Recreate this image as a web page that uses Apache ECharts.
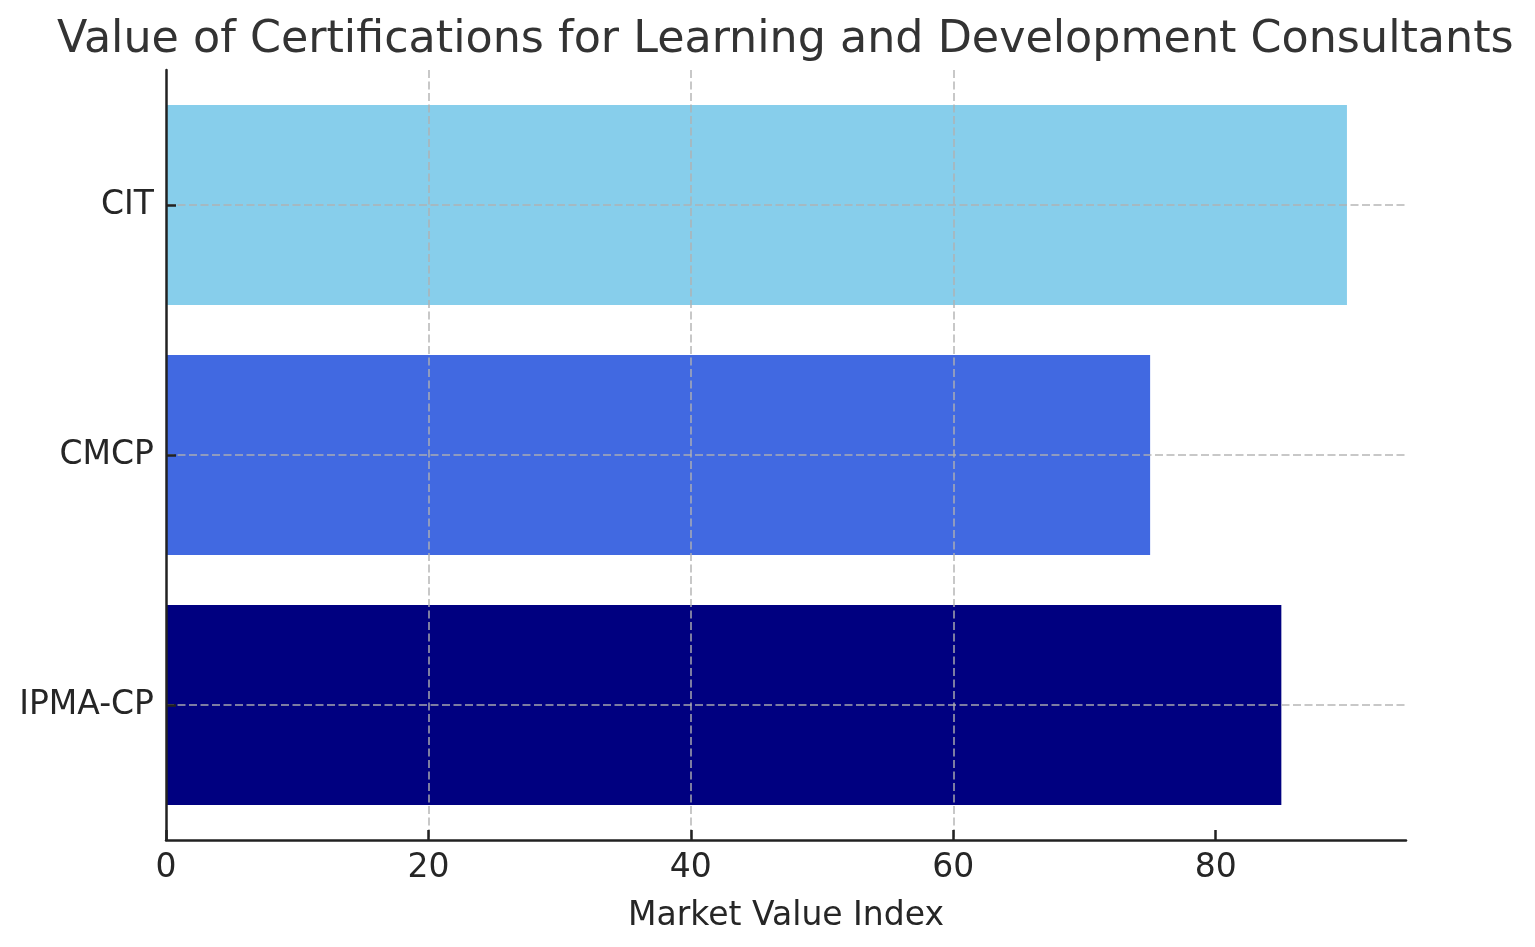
<!DOCTYPE html>
<html>
<head>
<meta charset="utf-8">
<script src="https://cdn.jsdelivr.net/npm/echarts@6/dist/echarts.min.js"></script>
<style>
html,body{margin:0;padding:0;background:#fff;}
#chart{width:1535px;height:947px;}
</style>
</head>
<body>
<div id="chart"></div>
<script>
const titleText = 'Value of Certifications for Learning and Development Consultants';
const xAxisName = 'Market Value Index';
const categories = ['IPMA-CP', 'CMCP', 'CIT'];
const values = [85, 75, 90];
const barColors = ['#000080', '#4169E1', '#87CEEB'];
const xTicks = [0, 20, 40, 60, 80];
const xMax = 94.5;

const FONT = 'DejaVu Sans';
const AX = '#222222';
const GRID = 'rgba(176,176,176,0.7)';

const chart = echarts.init(document.getElementById('chart'));
chart.setOption({
  animation: false,
  backgroundColor: '#ffffff',
  title: {
    text: titleText,
    left: 57,
    top: 18,
    padding: 0,
    textStyle: { fontFamily: FONT, fontSize: 44.4, fontWeight: 'normal', color: '#333333' }
  },
  grid: [
    { left: 166, right: 129, top: 70, bottom: 107 },
    { left: 166, right: 129, top: 80, bottom: 117 }
  ],
  xAxis: [
    {
      gridIndex: 0, type: 'value', min: 0, max: xMax, interval: 20, z: 5,
      name: xAxisName, nameLocation: 'middle', nameGap: 60,
      nameTextStyle: { fontFamily: FONT, fontSize: 33, color: '#262626' },
      axisLine: { show: true, onZero: false, lineStyle: { color: AX, width: 2.5 } },
      axisTick: { show: true, inside: true, length: 10, customValues: xTicks, lineStyle: { color: AX, width: 2.5 } },
      axisLabel: { customValues: xTicks, fontFamily: FONT, fontSize: 33, color: '#262626', margin: 12 },
      splitLine: { show: true, showMinLine: false, showMaxLine: false, lineStyle: { type: [8, 3.5], color: GRID, width: 2 } }
    },
    {
      gridIndex: 1, type: 'value', min: 0, max: xMax, show: false
    }
  ],
  yAxis: [
    {
      gridIndex: 0, type: 'value', min: 0, max: 1, z: 6,
      axisLine: { show: true, onZero: false, lineStyle: { color: AX, width: 2.5 } },
      axisTick: { show: false }, axisLabel: { show: false }, splitLine: { show: false }
    },
    {
      gridIndex: 1, type: 'category', data: categories, z: 5,
      axisLine: { show: false },
      axisTick: { show: true, inside: true, length: 10, alignWithLabel: true, lineStyle: { color: AX, width: 2.5 } },
      axisLabel: { fontFamily: FONT, fontSize: 33, color: '#262626', margin: 12 },
      splitLine: { show: false }
    }
  ],
  series: [
    {
      type: 'bar',
      xAxisIndex: 1, yAxisIndex: 1,
      barWidth: '80%',
      data: values.map((v, i) => ({ value: v, itemStyle: { color: barColors[i] } })),
      markLine: {
        silent: true,
        symbol: 'none',
        label: { show: false },
        lineStyle: { type: [8, 3.5], color: GRID, width: 2 },
        data: categories.map(c => ({ yAxis: c }))
      }
    }
  ]
});
</script>
</body>
</html>
